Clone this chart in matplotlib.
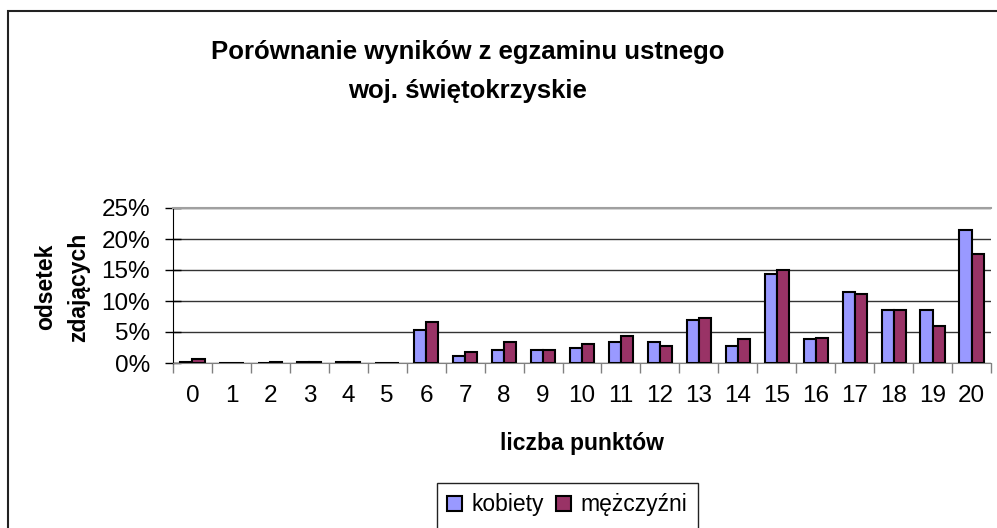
import matplotlib.pyplot as plt
import matplotlib.patches as mpatches
import numpy as np

plt.rcParams['font.family'] = ['Liberation Sans', 'DejaVu Sans']

# liczba punktów 0..20
punkty = [str(i) for i in range(21)]

# odsetek zdających (%)
kobiety = [0.2, 0.0, 0.0, 0.2, 0.2, 0.0, 5.4, 1.2, 2.1, 2.1, 2.5,
           3.4, 3.4, 7.0, 2.8, 14.4, 3.8, 11.5, 8.6, 8.6, 21.4]
mezczyzni = [0.6, 0.0, 0.2, 0.2, 0.1, 0.0, 6.6, 1.8, 3.4, 2.1, 3.1,
             4.4, 2.8, 7.3, 3.8, 15.0, 4.1, 11.1, 8.6, 6.0, 17.6]

W, H = 997, 528
fig = plt.figure(figsize=(W / 100, H / 100), dpi=100)
ax = fig.add_axes([173 / W, 1 - 363 / H, (991 - 173) / W, (363 - 208) / H])

x = np.arange(len(punkty))
bw = 0.31
ax.bar(x - bw / 2, kobiety, bw, color='#9999FF', edgecolor='black', linewidth=1.5,
       label='kobiety', zorder=3)
ax.bar(x + bw / 2, mezczyzni, bw, color='#993366', edgecolor='black', linewidth=1.5,
       label='mężczyźni', zorder=3)

ax.set_xlim(-0.5, len(punkty) - 0.5)
ax.set_ylim(0, 25)
ax.set_yticks([0, 5, 10, 15, 20, 25])
ax.set_yticklabels([f'{v}%' for v in [0, 5, 10, 15, 20, 25]], fontsize=17.5)
ax.set_xticks(x)
ax.set_xticklabels(punkty, fontsize=17.5)
ax.set_xticks(np.arange(-0.5, len(punkty) + 0.5, 1), minor=True)
ax.tick_params(axis='x', which='major', length=0, pad=16)
ax.tick_params(axis='x', which='minor', length=7, color='#808080', width=1)
ax.tick_params(axis='y', direction='inout', length=12, width=1, pad=10.5)

ax.grid(axis='y', color='#333333', linewidth=1, zorder=0)
ax.spines['left'].set_color('black')
ax.spines['bottom'].set_color('#808080')
ax.spines['top'].set_color('#a0a0a0')
ax.spines['top'].set_linewidth(1.5)
ax.spines['right'].set_visible(False)

fig.text(582 / W, 1 - 450 / H, 'liczba punktów', ha='center', va='baseline',
         fontsize=16.5, fontweight='bold')
fig.text(46 / W, 1 - 287 / H, 'odsetek', rotation=90, ha='center', va='center',
         fontsize=16.5, fontweight='bold')
fig.text(79 / W, 1 - 287 / H, 'zdających', rotation=90, ha='center', va='center',
         fontsize=16.5, fontweight='bold')

fig.text(468 / W, 1 - 59 / H, 'Porównanie wyników z egzaminu ustnego',
         ha='center', va='baseline', fontsize=18.5, fontweight='bold')
fig.text(468 / W, 1 - 98 / H, 'woj. świętokrzyskie',
         ha='center', va='baseline', fontsize=18.5, fontweight='bold')

# ramka wykresu
fig.patches.append(mpatches.Rectangle((7.5 / W, -0.1), 1.1, 1 - 11 / H + 0.1,
                                      transform=fig.transFigure, fill=False,
                                      edgecolor='#222222', linewidth=1.5))
# ramka legendy
fig.patches.append(mpatches.Rectangle((437 / W, -0.1), (698 - 437) / W, 1 - 483 / H + 0.1,
                                      transform=fig.transFigure, fill=False,
                                      edgecolor='#222222', linewidth=1))
fig.legend(loc='center left', bbox_to_anchor=(447 / W, 1 - 505 / H), ncol=2,
           frameon=False, fontsize=16.5, handlelength=0.65, handleheight=0.65,
           handletextpad=0.43, columnspacing=0.5, borderpad=0, borderaxespad=0)

fig.savefig('out.png', dpi=100)
